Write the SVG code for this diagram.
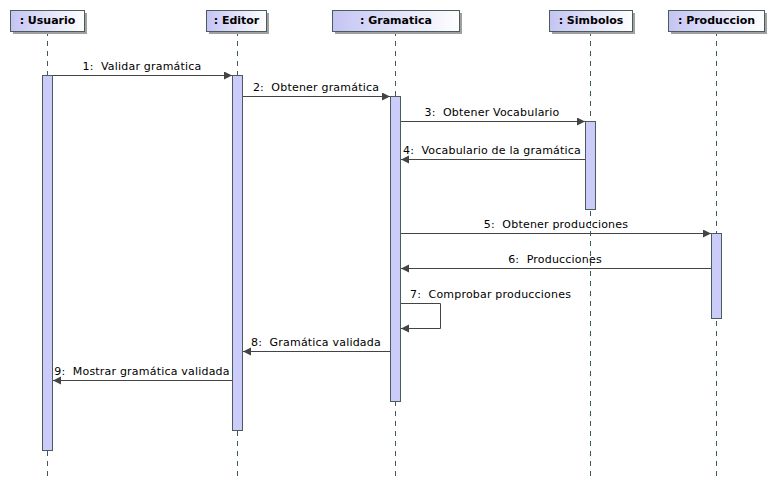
<svg xmlns="http://www.w3.org/2000/svg" width="774" height="485" viewBox="0 0 774 485">
<defs>
<linearGradient id="hg" x1="0" y1="0" x2="1" y2="0">
<stop offset="0" stop-color="#c4c4f4"/>
<stop offset="1" stop-color="#ffffff"/>
</linearGradient>
<marker id="ah" markerWidth="9" markerHeight="9" refX="8" refY="4" orient="auto" markerUnits="userSpaceOnUse">
<path d="M0,0 L8,4 L0,8 z" fill="#444"/>
</marker>
<style>
.hd{fill:url(#hg);stroke:#4a5c5c;stroke-width:1}
.sh{fill:#a0a0a0}
.ht{font-family:"DejaVu Sans",sans-serif;font-size:11px;font-weight:bold;fill:#000;text-anchor:middle}
.ll{stroke:#3f5a5a;stroke-width:1;stroke-dasharray:5,5}
.act{fill:#ccccfa;stroke:#4a5c5c;stroke-width:1}
.msg{stroke:#444;stroke-width:1;fill:none;marker-end:url(#ah)}
.mt{font-family:"DejaVu Sans",sans-serif;font-size:11px;fill:#000;text-anchor:middle;white-space:pre;letter-spacing:0.2px}
</style>
</defs>
<rect width="774" height="485" fill="#fff"/>
<g id="lifelines">
<line class="ll" x1="47.5" y1="31" x2="47.5" y2="476"/>
<line class="ll" x1="237.5" y1="31" x2="237.5" y2="476"/>
<line class="ll" x1="395.5" y1="31" x2="395.5" y2="476"/>
<line class="ll" x1="590.5" y1="31" x2="590.5" y2="476"/>
<line class="ll" x1="716.5" y1="31" x2="716.5" y2="476"/>
</g>
<g id="usuario">
<rect class="sh" x="13" y="13" width="74" height="21"/>
<rect class="hd" x="10.5" y="10.5" width="74" height="21"/>
<text class="ht" x="47.5" y="24">: Usuario</text>
<rect class="act" x="42.5" y="75.5" width="10" height="375"/>
</g>
<g id="editor">
<rect class="sh" x="209" y="13" width="60" height="21"/>
<rect class="hd" x="206.5" y="10.5" width="60" height="21"/>
<text class="ht" x="236.5" y="24">: Editor</text>
<rect class="act" x="232.5" y="75.5" width="10" height="355"/>
</g>
<g id="gramatica">
<rect class="sh" x="335" y="13" width="127" height="21"/>
<rect class="hd" x="332.5" y="10.5" width="127" height="21"/>
<text class="ht" x="396" y="24">: Gramatica</text>
<rect class="act" x="390.5" y="96.5" width="10" height="305"/>
</g>
<g id="simbolos">
<rect class="sh" x="552" y="13" width="83" height="21"/>
<rect class="hd" x="549.5" y="10.5" width="83" height="21"/>
<text class="ht" x="591" y="24">: Simbolos</text>
<rect class="act" x="585.5" y="121.5" width="10" height="88"/>
</g>
<g id="produccion">
<rect class="sh" x="671" y="13" width="96" height="21"/>
<rect class="hd" x="668.5" y="10.5" width="96" height="21"/>
<text class="ht" x="716.5" y="24">: Produccion</text>
<rect class="act" x="711.5" y="233.5" width="10" height="85"/>
</g>
<g id="connectors">
<line class="msg" x1="53" y1="75.5" x2="232" y2="75.5"/>
<text class="mt" x="142" y="70">1:  Validar gramática</text>
<line class="msg" x1="243" y1="96.5" x2="390" y2="96.5"/>
<text class="mt" x="316" y="91">2:  Obtener gramática</text>
<line class="msg" x1="401" y1="121.5" x2="585" y2="121.5"/>
<text class="mt" x="492" y="116">3:  Obtener Vocabulario</text>
<line class="msg" x1="585" y1="159.5" x2="401" y2="159.5"/>
<text class="mt" x="492" y="154">4:  Vocabulario de la gramática</text>
<line class="msg" x1="401" y1="233.5" x2="711" y2="233.5"/>
<text class="mt" x="556" y="228">5:  Obtener producciones</text>
<line class="msg" x1="711" y1="268.5" x2="401" y2="268.5"/>
<text class="mt" x="555" y="263">6:  Producciones</text>
<polyline class="msg" points="401,303.5 440.5,303.5 440.5,328.5 401,328.5"/>
<text class="mt" x="410" y="298" style="text-anchor:start">7:  Comprobar producciones</text>
<line class="msg" x1="390" y1="351.5" x2="243" y2="351.5"/>
<text class="mt" x="316" y="346">8:  Gramática validada</text>
<line class="msg" x1="232" y1="380.5" x2="53" y2="380.5"/>
<text class="mt" x="142" y="375">9:  Mostrar gramática validada</text>
</g>
</svg>
